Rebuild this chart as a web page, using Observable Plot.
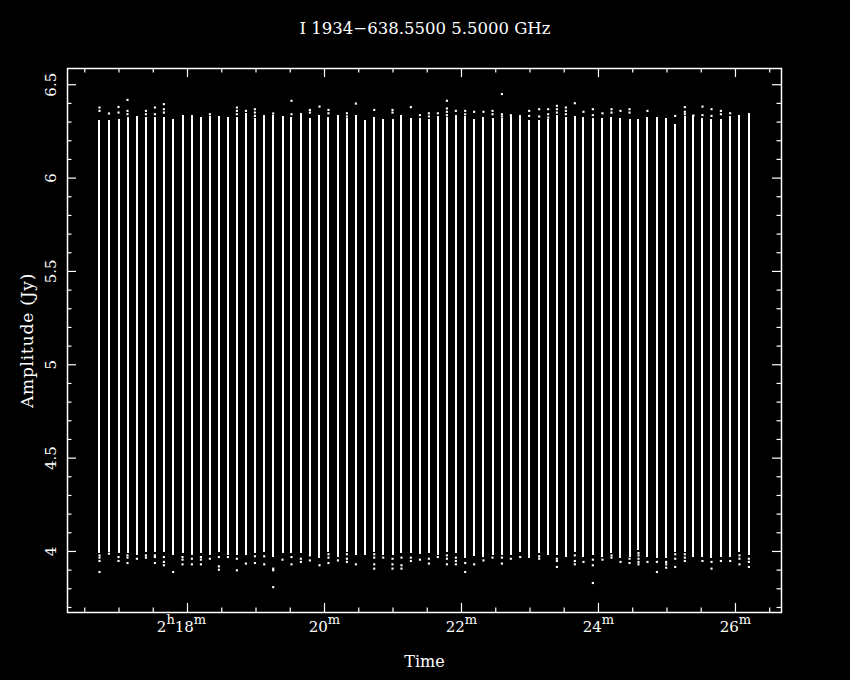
<!DOCTYPE html>
<html><head><meta charset="utf-8">
<script src="https://cdn.jsdelivr.net/npm/d3@7"></script>
<script src="https://cdn.jsdelivr.net/npm/@observablehq/plot@0.6"></script>
<style>
html,body{margin:0;padding:0;background:#000;}
#wrap{width:850px;height:680px;background:#000;overflow:hidden;}
#title{height:48px;box-sizing:border-box;padding-top:19px;line-height:20px;text-align:center;color:#fff;font-family:"DejaVu Serif",serif;font-size:16.5px;white-space:pre;}
svg text{font-family:"DejaVu Serif",serif;}
</style>
</head><body><div id="wrap"><div id="title"></div><div id="chart"></div></div>
<script>
const title = "I 1934\u2212638.5500 5.5000 GHz";
const xLabel = "Time";
const yLabel = "Amplitude (Jy)";

// scan times (minutes after 2h)
const times = [16.715,16.853,16.993,17.124,17.261,17.393,17.524,17.655,17.791,17.927,
 18.064,18.196,18.327,18.458,18.590,18.721,18.853,18.984,19.120,19.251,
 19.387,19.518,19.655,19.787,19.927,20.058,20.196,20.327,20.458,20.594,
 20.726,20.857,20.993,21.124,21.261,21.393,21.524,21.655,21.787,21.918,
 22.054,22.185,22.321,22.453,22.590,22.721,22.857,22.988,23.134,23.266,
 23.393,23.524,23.655,23.781,23.918,24.058,24.190,24.321,24.453,24.584,
 24.715,24.853,24.988,25.120,25.261,25.387,25.518,25.650,25.787,25.923,
 26.058,26.196];

// upper end of dense amplitude band
const hi = [6.306,6.306,6.315,6.324,6.330,6.324,6.324,6.324,6.312,6.337,
 6.333,6.324,6.330,6.330,6.324,6.324,6.347,6.319,6.333,6.333,
 6.330,6.324,6.346,6.319,6.333,6.324,6.333,6.319,6.333,6.310,
 6.324,6.315,6.315,6.337,6.319,6.319,6.315,6.330,6.324,6.333,
 6.330,6.315,6.324,6.319,6.319,6.330,6.333,6.306,6.306,6.315,
 6.333,6.324,6.330,6.324,6.319,6.319,6.324,6.319,6.312,6.312,
 6.324,6.324,6.319,6.288,6.330,6.333,6.319,6.315,6.315,6.330,
 6.333,6.346];

// lower end of dense amplitude band
const lo = [3.988,3.997,3.988,3.988,3.979,3.997,3.997,3.997,3.979,3.988,
 3.979,3.988,3.979,3.997,3.979,3.979,3.979,3.988,3.997,3.970,
 3.988,3.988,3.988,3.979,3.961,3.997,3.970,3.997,3.979,3.979,
 3.997,3.979,3.979,3.988,3.988,3.985,3.988,3.979,3.997,3.988,
 3.961,3.974,3.970,3.979,3.979,3.979,3.997,3.961,3.988,3.979,
 3.979,3.970,3.992,3.970,3.979,3.970,3.988,3.961,3.970,4.006,
 3.970,3.961,3.961,3.997,3.997,3.970,3.970,3.961,3.970,3.970,
 3.997,3.979];

// scattered points above each band
const topDots = [[6.378,6.360],[6.346],[6.381,6.351],[6.419,6.360,6.342],[],[6.360,6.342],[6.378,6.342],[6.396,6.369,6.351],[],[],
 [],[],[6.342],[],[],[6.378,6.360,6.342],[6.360],[6.369,6.351,6.333],[],[6.346],
 [],[6.414,6.342],[],[6.365,6.351],[6.383],[6.365,6.347],[],[6.347,6.330],[6.399],[],
 [6.365],[],[6.365,6.351],[],[6.380],[6.337],[6.347,6.330],[6.347],[6.414,6.373,6.355,6.337],[6.360],
 [6.360,6.342],[6.355],[6.355],[6.360,6.342],[6.450,6.342,6.330],[6.337],[],[6.360,6.333],[6.369,6.330],[6.369,6.342,6.324],
 [6.387,6.369,6.351],[6.378,6.360,6.342],[6.401],[6.355],[6.369,6.337],[6.347],[6.369,6.351],[6.360],[6.369,6.351],[],
 [6.360],[],[],[6.333],[6.380,6.355,6.342],[6.335],[6.383,6.337],[6.369,6.333],[6.360,6.342],[6.347],
 [],[]];

// scattered points below each band
const botDots = [[3.979,3.967,3.949,3.890],[3.988],[3.970,3.949],[3.979,3.967,3.938],[3.961],[3.979,3.967],[3.979,3.970,3.938],[3.970,3.944,3.926],[3.890],[3.970,3.956,3.931],
 [3.961,3.931],[3.970,3.956,3.931],[3.961],[3.970,3.920,3.902],[3.970],[3.961,3.899],[3.935],[3.974,3.938],[3.974,3.931],[3.908,3.899,3.809],
 [3.956],[3.970,3.931],[3.961,3.944],[3.979,3.952],[3.926],[3.985,3.967,3.938],[3.952],[3.985,3.961,3.944],[3.931],[],
 [3.985,3.967,3.931,3.908],[3.967],[3.961,3.931,3.908],[3.967,3.926,3.908],[3.967,3.949],[3.956],[3.961,3.935],[3.970],[3.979,3.961,3.931],[3.967,3.949,3.931],
 [3.938,3.890],[3.931],[3.952],[3.967],[3.967,3.935],[3.961],[3.970],[],[3.974,3.961],[],
 [3.961,3.949,3.917],[],[3.979,3.949,3.931],[3.944],[3.956,3.926,3.831],[3.956],[3.979,3.967],[3.944],[3.961,3.938],[3.992,3.979,3.961,3.944,3.931],
 [3.944],[3.944,3.890],[3.944,3.931,3.913],[3.985,3.961,3.917],[3.985,3.967,3.949],[],[3.949],[3.944,3.908],[3.949],[3.949],
 [3.979,3.961,3.931],[3.961,3.944,3.917]];

const xTicks = [18, 20, 22, 24, 26];
const xTickLabels = ["2h18m", "20m", "22m", "24m", "26m"];
const xMinor = [16.5,17,17.5,18.5,19,19.5,20.5,21,21.5,22.5,23,23.5,24.5,25,25.5,26.5];
const yTicks = [4, 4.5, 5, 5.5, 6, 6.5];
const yTickLabels = ["4", "4.5", "5", "5.5", "6", "6.5"];
const yMinor = [3.7,3.8,3.9,4.1,4.2,4.3,4.4,4.6,4.7,4.8,4.9,5.1,5.2,5.3,5.4,5.6,5.7,5.8,5.9,6.1,6.2,6.3,6.4];

document.getElementById("title").textContent = title;

const W = 850, H = 632, mL = 67, mR = 69, mT = 20, mB = 68;
const fw = W - mL - mR, fh = H - mT - mB;
const idx = d3.range(times.length);
const dots = idx.flatMap(i => [...topDots[i], ...botDots[i]].map(v => ({t: times[i], v})));

const tickXs = (data, len, side) => Plot.tickX(data, {x: d => d, stroke: "white", strokeWidth: 1.2,
  insetTop: side === "bottom" ? fh - len : 0, insetBottom: side === "top" ? fh - len : 0});
const tickYs = (data, len, side) => Plot.tickY(data, {y: d => d, stroke: "white", strokeWidth: 1.2,
  insetRight: side === "left" ? fw - len : 0, insetLeft: side === "right" ? fw - len : 0});

const svg = Plot.plot({
  width: W, height: H,
  marginLeft: mL, marginRight: mR, marginTop: mT, marginBottom: mB,
  style: {background: "black", color: "white", fontFamily: "DejaVu Serif, serif"},
  x: {domain: [16.248, 26.672], axis: null},
  y: {domain: [3.673, 6.587], axis: null},
  marks: [
    Plot.ruleX(idx, {x: i => times[i], y1: i => lo[i], y2: i => hi[i], stroke: "white", strokeWidth: 2, shapeRendering: "crispEdges"}),
    Plot.dot(dots, {x: "t", y: "v", symbol: "square", r: 1.2, fill: "white", stroke: null}),
    tickXs(xTicks, 9, "bottom"), tickXs(xTicks, 9, "top"),
    tickXs(xMinor, 4.5, "bottom"), tickXs(xMinor, 4.5, "top"),
    tickYs(yTicks, 9, "left"), tickYs(yTicks, 9, "right"),
    tickYs(yMinor, 4.5, "left"), tickYs(yMinor, 4.5, "right"),
    Plot.frame({stroke: "white", strokeWidth: 1.5}),
    Plot.text(xTicks.slice(0, 1), {x: d => d, text: (d, i) => xTickLabels[i], frameAnchor: "bottom", dy: 19, dx: -6, fontSize: 15, fill: "white"}),
    Plot.text(xTicks.slice(1), {x: d => d, text: (d, i) => xTickLabels[i + 1], frameAnchor: "bottom", dy: 19, fontSize: 15, fill: "white"}),
    Plot.text(yTicks, {y: d => d, text: (d, i) => yTickLabels[i], frameAnchor: "left", textAnchor: "middle", dx: -16, rotate: -90, fontSize: 15, fill: "white"}),
    Plot.text([xLabel], {text: d => d, frameAnchor: "bottom", dy: 54, fontSize: 16, fill: "white"}),
    Plot.text([yLabel], {text: d => d, frameAnchor: "left", textAnchor: "middle", dx: -40, rotate: -90, fontSize: 17, fill: "white"})
  ]
});

// superscript hours/minutes markers, label spacing
const ns = "http://www.w3.org/2000/svg";
svg.querySelectorAll("text").forEach(el => {
  if (el.textContent === yLabel) { el.style.letterSpacing = "0.8px"; return; }
  const m = el.textContent.match(/^(?:(\d+)h)?(\d+)m$/);
  if (!m) return;
  el.textContent = "";
  const add = (txt, dy, small) => {
    const t = document.createElementNS(ns, "tspan");
    t.textContent = txt;
    if (dy) t.setAttribute("dy", dy);
    if (small) t.setAttribute("font-size", "13");
    el.appendChild(t);
  };
  if (m[1]) { add(m[1]); add("h", -8, true); add(m[2], 8); } else add(m[2]);
  add("m", -8, true);
});
document.getElementById("chart").appendChild(svg);
</script>
</body></html>
